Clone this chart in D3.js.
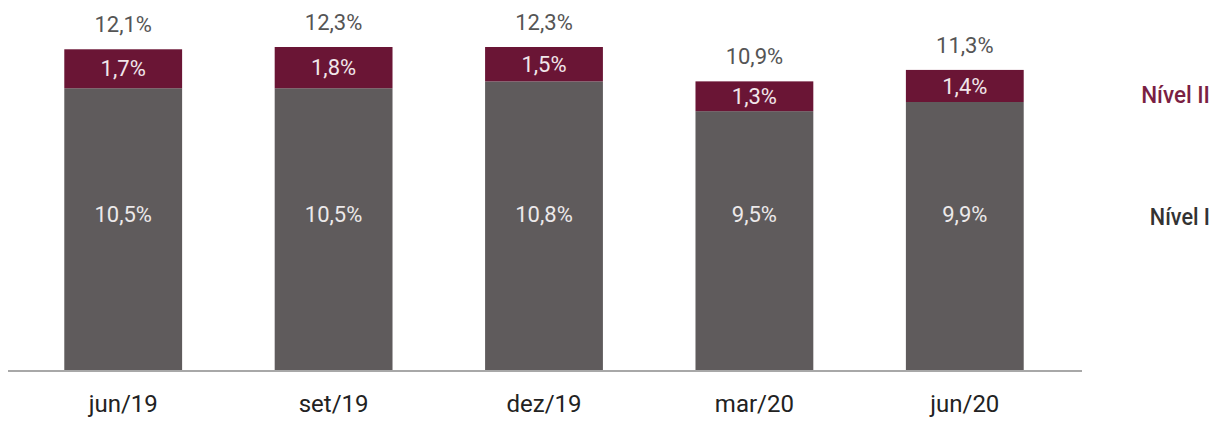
<!DOCTYPE html>
<html><head><meta charset="utf-8">
<script src="https://cdn.jsdelivr.net/npm/d3@7"></script>
<style>body{margin:0;background:#fff}svg{display:block}</style>
</head><body>
<svg id="c" width="1222" height="421"></svg>
<script>
const categories = ["jun/19","set/19","dez/19","mar/20","jun/20"];
const nivel1 = [10.5,10.5,10.8,9.5,9.9];
const nivel2 = [1.7,1.8,1.5,1.3,1.4];
const totals = [12.1,12.3,12.3,10.9,11.3];
const seriesNames = ["Nível I","Nível II"];

const fmt = v => d3.format(".1f")(v).replace(".", ",") + "%";
const svg = d3.select("#c");
const font = "Roboto, 'Noto Sans', sans-serif";

const x = d3.scaleBand().domain(categories).range([18, 1070]).paddingInner(0.44).paddingOuter(0.22);
const y = d3.scaleLinear().domain([-1.84, 12.3]).range([371, 47]);
const base = y.domain()[0];

const data = categories.map((c,i)=>({c, a:nivel1[i], b:nivel2[i], t:totals[i]}));

const g = svg.append("g");
g.selectAll("rect.n1").data(data).join("rect")
  .attr("x", d=>x(d.c)).attr("width", x.bandwidth())
  .attr("y", d=>y(d.a)).attr("height", d=>y(base)-y(d.a))
  .attr("fill","#5f5b5c");
g.selectAll("rect.n2").data(data).join("rect")
  .attr("x", d=>x(d.c)).attr("width", x.bandwidth())
  .attr("y", d=>y(d.a+d.b)).attr("height", d=>y(d.a)-y(d.a+d.b))
  .attr("fill","#6a1535");

// labels
g.selectAll("text.n2").data(data).join("text")
  .attr("x", d=>x(d.c)+x.bandwidth()/2).attr("y", d=>(y(d.a)+y(d.a+d.b))/2)
  .attr("dy","0.35em").attr("text-anchor","middle")
  .attr("font-family",font).attr("font-size",22).attr("fill","#f1e6ea")
  .text(d=>fmt(d.b));
g.selectAll("text.n1").data(data).join("text")
  .attr("x", d=>x(d.c)+x.bandwidth()/2).attr("y", 214)
  .attr("dy","0.35em").attr("text-anchor","middle")
  .attr("font-family",font).attr("font-size",22).attr("fill","#ece9ea")
  .text(d=>fmt(d.a));
g.selectAll("text.tot").data(data).join("text")
  .attr("x", d=>x(d.c)+x.bandwidth()/2).attr("y", d=>y(d.a+d.b)-25)
  .attr("dy","0.35em").attr("text-anchor","middle")
  .attr("font-family",font).attr("font-size",22).attr("fill","#555")
  .text(d=>fmt(d.t));

// axis
const ax = svg.append("g").attr("transform","translate(0,371)")
  .call(d3.axisBottom(x).tickSize(0).tickPadding(24));
ax.select(".domain").attr("stroke","#a8a8a8").attr("stroke-width",2).attr("d","M8,0H1082");
ax.selectAll("text").attr("font-family",font).attr("font-size",24).attr("fill","#222");

// legend
const leg = [{n:seriesNames[1], y:95, c:"#7a1f43"},{n:seriesNames[0], y:217, c:"#333"}];
svg.selectAll("text.leg").data(leg).join("text")
  .attr("x",1210).attr("y",d=>d.y).attr("dy","0.35em").attr("text-anchor","end")
  .attr("font-family",font).attr("font-weight",500).attr("font-size",24).attr("fill",d=>d.c)
  .attr("textLength", d=>d.n.length*8.6).attr("lengthAdjust","spacingAndGlyphs")
  .text(d=>d.n);
</script>
</body></html>
